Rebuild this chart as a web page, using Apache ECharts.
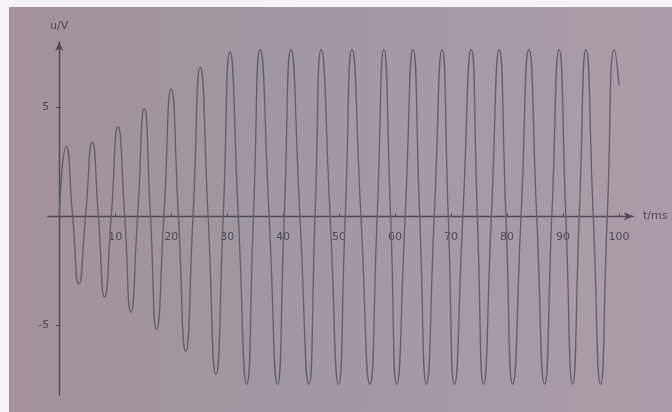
<!DOCTYPE html>
<html>
<head>
<meta charset="utf-8">
<script src="https://cdn.jsdelivr.net/npm/echarts@6/dist/echarts.min.js"></script>
<style>
html,body{margin:0;padding:0;background:#fff;}
#c{width:672px;height:412px;}
</style>
</head>
<body>
<div id="c"></div>
<script>
// time (ms) of each read point: start, peaks, zero crossings, troughs, end
const tVals = [
  0, 1.25, 2.4, 3.5, 4.7, 5.9, 7.0, 8.1, 9.3, 10.5,
  11.7, 12.8, 14.0, 15.2, 16.3, 17.4, 18.7, 20.0, 21.3, 22.6,
  23.9, 25.2, 26.6, 28.0, 29.3, 30.5, 32.0, 33.5, 34.7, 35.9,
  37.5, 39.0, 40.2, 41.4, 43.0, 44.6, 45.7, 46.8, 48.4, 49.9,
  51.1, 52.3, 53.9, 55.5, 56.8, 58.0, 59.2, 60.3, 61.8, 63.2,
  64.4, 65.6, 67.0, 68.4, 69.5, 70.6, 72.1, 73.6, 74.7, 75.8,
  77.2, 78.6, 79.8, 81.0, 82.5, 83.9, 85.3, 86.7, 88.0, 89.3,
  90.5, 91.7, 92.9, 94.1, 95.4, 96.7, 97.9, 99.2, 100
];
// voltage (V) at those times
const uVals = [
  0, 3.2, 0, -3.1, 0, 3.4, 0, -3.7, 0, 4.1,
  0, -4.4, 0, 4.95, 0, -5.2, 0, 5.85, 0, -6.2,
  0, 6.85, 0, -7.25, 0, 7.55, 0, -7.7, 0, 7.65,
  0, -7.7, 0, 7.65, 0, -7.7, 0, 7.65, 0, -7.7,
  0, 7.65, 0, -7.7, 0, 7.65, 0, -7.7, 0, 7.65,
  0, -7.7, 0, 7.65, 0, -7.7, 0, 7.65, 0, -7.7,
  0, 7.65, 0, -7.7, 0, 7.65, 0, -7.7, 0, 7.65,
  0, -7.7, 0, 7.65, 0, -7.7, 0, 7.65, 6.0
];
const xTickLabels = [10, 20, 30, 40, 50, 60, 70, 80, 90, 100];
const yTickLabels = [-5, 5];

const axisColor = '#4d4852';
const textColor = '#4f4a55';
const W = 672, H = 412;
const grid = {left: 48, right: 39, top: 42, bottom: 17};
const xMin = -2, xMax = 102.5, yMin = -8.2, yMax = 8;

// place axes through the origin by offsetting them from the grid edges
const plotW = W - grid.left - grid.right;
const plotH = H - grid.top - grid.bottom;
const zeroXpx = plotW * (0 - xMin) / (xMax - xMin);
const zeroYfromBottom = plotH * (0 - yMin) / (yMax - yMin);

const chart = echarts.init(document.getElementById('c'), null, {renderer: 'canvas'});
chart.setOption({
  animation: false,
  backgroundColor: {
    type: 'linear', x: 0, y: 0, x2: 1, y2: 0,
    colorStops: [
      {offset: 0, color: '#a3929a'},
      {offset: 0.35, color: '#9f979f'},
      {offset: 0.7, color: '#a49ba4'},
      {offset: 1, color: '#ab9da7'}
    ]
  },
  graphic: [
    {type: 'rect', left: 0, top: 0, shape: {width: 672, height: 7}, style: {fill: '#f4f2f4'}, silent: true, z: -1},
    {type: 'rect', left: 0, top: 0, shape: {width: 9, height: 412}, style: {fill: '#f4f2f4'}, silent: true, z: -1}
  ],
  grid: Object.assign({containLabel: false}, grid),
  xAxis: {
    type: 'value',
    min: xMin,
    max: xMax,
    position: 'bottom',
    offset: -zeroYfromBottom,
    name: 't/ms',
    nameLocation: 'end',
    nameGap: 10,
    nameTextStyle: {color: textColor, fontSize: 11, fontFamily: 'DejaVu Sans', align: 'left', verticalAlign: 'middle'},
    axisLine: {onZero: false, symbol: ['none', 'arrow'], symbolSize: [6, 9], lineStyle: {color: axisColor, width: 1.4}},
    axisTick: {show: true, inside: true, length: 3, customValues: xTickLabels, lineStyle: {color: axisColor}},
    axisLabel: {customValues: xTickLabels, margin: 15, color: textColor, fontSize: 11, fontFamily: 'DejaVu Sans'},
    splitLine: {show: false}
  },
  yAxis: {
    type: 'value',
    min: yMin,
    max: yMax,
    position: 'left',
    offset: -zeroXpx,
    name: 'u/V',
    nameLocation: 'end',
    nameGap: 10,
    nameTextStyle: {color: textColor, fontSize: 11, fontFamily: 'DejaVu Sans', align: 'center'},
    axisLine: {onZero: false, symbol: ['none', 'arrow'], symbolSize: [6, 9], lineStyle: {color: axisColor, width: 1.4}},
    axisTick: {show: true, length: 3, customValues: yTickLabels, lineStyle: {color: axisColor}},
    axisLabel: {customValues: yTickLabels, margin: 10, color: textColor, fontSize: 11, fontFamily: 'DejaVu Sans'},
    splitLine: {show: false}
  },
  series: [{
    type: 'line',
    data: tVals.map((t, i) => [t, uVals[i]]),
    showSymbol: false,
    smooth: 0.6,
    clip: false,
    lineStyle: {color: '#625d68', width: 1.3}
  }]
});
</script>
</body>
</html>
